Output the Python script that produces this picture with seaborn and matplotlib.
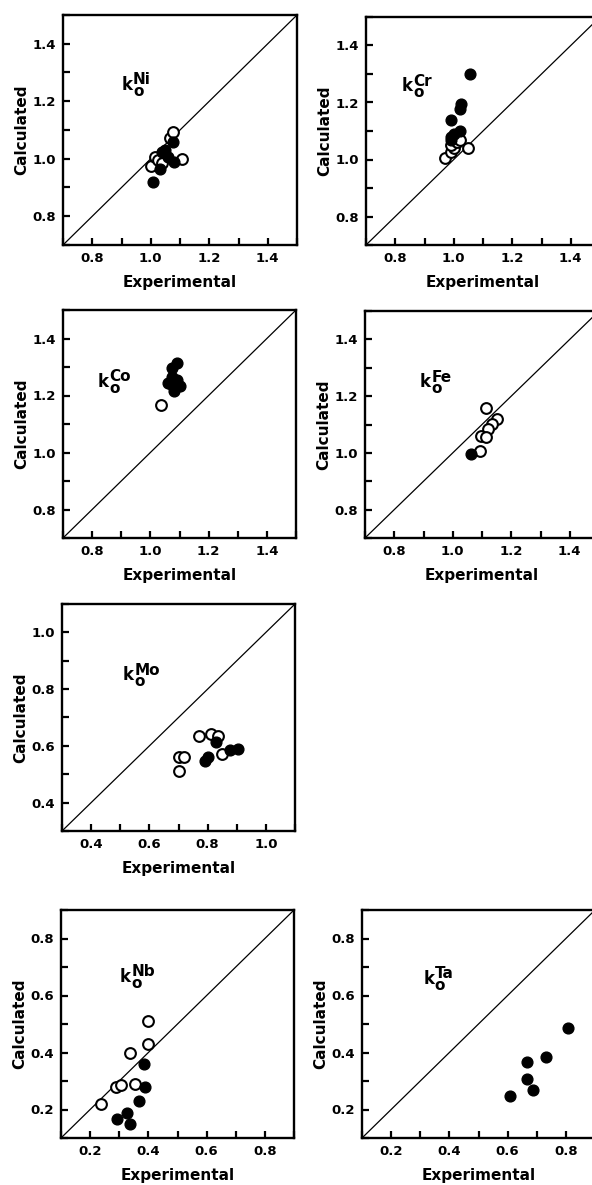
import numpy as np
import pandas as pd
import matplotlib
matplotlib.use("Agg")
import matplotlib.pyplot as plt
import seaborn as sns
from matplotlib.ticker import MultipleLocator, FormatStrFormatter

sns.set_style("ticks")
plt.rcParams['font.family'] = ['DejaVu Sans']
plt.rcParams['font.weight'] = 'bold'
for key in ['text.color', 'axes.labelcolor', 'xtick.color', 'ytick.color', 'axes.edgecolor']:
    plt.rcParams[key] = 'black'

# --- data (open = white circles, filled = black dots) ---
ni_open_x = [1.00, 1.015, 1.025, 1.04, 1.065, 1.077, 1.108]
ni_open_y = [0.975, 1.005, 0.995, 0.984, 1.071, 1.093, 1.00]
ni_fill_x = [1.009, 1.03, 1.04, 1.05, 1.06, 1.08, 1.075]
ni_fill_y = [0.92, 0.965, 1.025, 1.03, 1.005, 0.99, 1.06]

cr_open_x = [0.97, 0.99, 1.00, 0.99, 1.01, 1.02, 1.05]
cr_open_y = [1.005, 1.025, 1.04, 1.05, 1.06, 1.07, 1.04]
cr_fill_x = [1.057, 1.026, 1.022, 0.992, 1.02, 1.00, 0.99, 0.99]
cr_fill_y = [1.30, 1.195, 1.178, 1.138, 1.10, 1.09, 1.08, 1.07]

co_open_x = [1.035]
co_open_y = [1.165]
co_fill_x = [1.075, 1.09, 1.06, 1.075, 1.09, 1.10, 1.08, 1.07]
co_fill_y = [1.295, 1.315, 1.245, 1.265, 1.255, 1.235, 1.215, 1.24]

fe_open_x = [1.115, 1.15, 1.135, 1.12, 1.095, 1.115, 1.092]
fe_open_y = [1.158, 1.118, 1.103, 1.085, 1.058, 1.055, 1.005]
fe_fill_x = [1.062]
fe_fill_y = [0.995]

mo_open_x = [0.70, 0.70, 0.72, 0.77, 0.81, 0.837, 0.85]
mo_open_y = [0.51, 0.56, 0.56, 0.635, 0.642, 0.636, 0.57]
mo_fill_x = [0.79, 0.80, 0.83, 0.877, 0.905]
mo_fill_y = [0.545, 0.56, 0.612, 0.585, 0.59]

nb_open_x = [0.237, 0.288, 0.305, 0.355, 0.337, 0.40, 0.40]
nb_open_y = [0.218, 0.278, 0.287, 0.289, 0.399, 0.43, 0.509]
nb_fill_x = [0.386, 0.389, 0.367, 0.326, 0.292, 0.337]
nb_fill_y = [0.359, 0.28, 0.231, 0.189, 0.167, 0.148]

ta_open_x = []
ta_open_y = []
ta_fill_x = [0.609, 0.667, 0.667, 0.686, 0.731, 0.806]
ta_fill_y = [0.247, 0.366, 0.307, 0.269, 0.385, 0.487]

W, H = 592, 1185
fig = plt.figure(figsize=(W / 100, H / 100), dpi=100)


def make_ax(left, top, right, bottom):
    return fig.add_axes([left / W, 1 - bottom / H, (right - left) / W, (bottom - top) / H])


def panel(ax, ox, oy, fx, fy, lims, elem, kx, ky):
    lo, hi = lims
    ax.axline((lo, lo), slope=1, color='black', lw=0.9, zorder=1)
    if len(ox):
        sns.scatterplot(x=ox, y=oy, ax=ax, s=60, color='white',
                        edgecolor='black', linewidth=1.5, zorder=3)
    sns.scatterplot(x=fx, y=fy, ax=ax, s=60, color='black',
                    edgecolor='black', linewidth=1.0, zorder=4)
    ax.set_xlim(lo, hi)
    ax.set_ylim(lo, hi)
    for a in (ax.xaxis, ax.yaxis):
        a.set_major_locator(MultipleLocator(0.2))
        a.set_minor_locator(MultipleLocator(0.1))
        a.set_major_formatter(FormatStrFormatter('%.1f'))
    ax.tick_params(which='both', direction='in', length=5, width=1.6,
                   top=False, right=False)
    ax.tick_params(which='major', labelsize=9.5, pad=5)
    for sp in ax.spines.values():
        sp.set_linewidth(1.7)
        sp.set_visible(True)
    ax.set_xlabel("Experimental", fontsize=11, fontweight='bold', labelpad=7)
    ax.set_ylabel("Calculated", fontsize=11, fontweight='bold', labelpad=2)
    # k_o^El label: "k" plus the stacked superscript / subscript
    ax.text(kx, ky, "k", fontsize=12, fontweight='bold', va='baseline', ha='left')
    ax.annotate(elem + "\no", xy=(kx, ky), xytext=(8.2, 3.0), textcoords='offset points',
                fontsize=11, fontweight='bold', va='center', ha='left', linespacing=0.7)


ax = make_ax(63, 15, 297, 245)
panel(ax, ni_open_x, ni_open_y, ni_fill_x, ni_fill_y, (0.7, 1.5), "Ni", 0.90, 1.24)
ax = make_ax(366, 17, 600, 245)
panel(ax, cr_open_x, cr_open_y, cr_fill_x, cr_fill_y, (0.7, 1.5), "Cr", 0.822, 1.24)
ax = make_ax(63, 310, 296, 538)
panel(ax, co_open_x, co_open_y, co_fill_x, co_fill_y, (0.7, 1.5), "Co", 0.82, 1.231)
ax = make_ax(365, 311, 599, 538)
panel(ax, fe_open_x, fe_open_y, fe_fill_x, fe_fill_y, (0.7, 1.5), "Fe", 0.888, 1.231)
ax = make_ax(62, 604, 295, 831)
panel(ax, mo_open_x, mo_open_y, mo_fill_x, mo_fill_y, (0.3, 1.1), "Mo", 0.509, 0.832)
ax = make_ax(61, 910, 294, 1138)
panel(ax, nb_open_x, nb_open_y, nb_fill_x, nb_fill_y, (0.1, 0.9), "Nb", 0.303, 0.648)
ax = make_ax(362, 910, 595, 1138)
panel(ax, ta_open_x, ta_open_y, ta_fill_x, ta_fill_y, (0.1, 0.9), "Ta", 0.311, 0.642)

fig.savefig("out.png", dpi=100)
